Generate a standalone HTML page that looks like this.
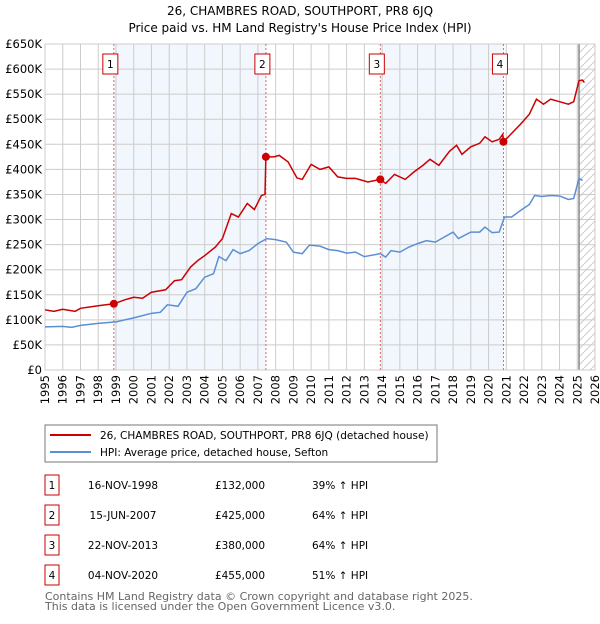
<!DOCTYPE html>
<html><head><meta charset="utf-8"><style>
body{margin:0;background:#fff;font-family:"DejaVu Sans","Liberation Sans",sans-serif;}
svg text{font-family:"DejaVu Sans","Liberation Sans",sans-serif;}
</style></head><body>
<svg id="c" width="600" height="620" xmlns="http://www.w3.org/2000/svg">
<defs><pattern id="h" width="8" height="8" patternUnits="userSpaceOnUse"><path d="M0,8 L8,0" stroke="#ccc" stroke-width="1"/></pattern></defs>
<text x="300" y="15" text-anchor="middle" font-size="12">26, CHAMBRES ROAD, SOUTHPORT, PR8 6JQ</text>
<text x="300" y="32" text-anchor="middle" font-size="12">Price paid vs. HM Land Registry's House Price Index (HPI)</text>
<g id="plot"></g>
<rect x="45" y="425" width="392" height="37" fill="#fff" stroke="#777"/>
<line x1="50" y1="435" x2="91" y2="435" stroke="#cc0000" stroke-width="2"/>
<text x="100" y="439" font-size="10.5">26, CHAMBRES ROAD, SOUTHPORT, PR8 6JQ (detached house)</text>
<line x1="50" y1="452" x2="91" y2="452" stroke="#5b8fd4" stroke-width="2"/>
<text x="100" y="456" font-size="10.5">HPI: Average price, detached house, Sefton</text>
<g id="tbl" font-size="10.5"></g>
<text x="45" y="600" font-size="11" fill="#666">Contains HM Land Registry data © Crown copyright and database right 2025.</text>
<text x="45" y="610" font-size="11" fill="#666">This data is licensed under the Open Government Licence v3.0.</text>
</svg>
<script>
const hpiT=[1995,1996,1996.5,1997,1998,1999,2000,2001,2001.5,2001.9,2002.5,2003,2003.5,2004,2004.5,2004.8,2005.2,2005.6,2006,2006.5,2007,2007.5,2008,2008.6,2009,2009.5,2009.9,2010.5,2011,2011.5,2012,2012.5,2013,2013.9,2014.2,2014.5,2015,2015.5,2016,2016.5,2017,2017.5,2018,2018.3,2019,2019.5,2019.8,2020.2,2020.6,2020.9,2021.3,2021.8,2022.3,2022.6,2023,2023.5,2024,2024.5,2024.8,2025.1,2025.3];
const hpiV=[86,87,85,89,93,96,104,113,115,130,127,155,162,185,192,226,218,240,232,238,252,262,260,255,235,232,249,247,240,238,233,235,226,232,225,238,235,245,252,258,255,265,275,262,275,275,285,274,275,305,305,318,330,348,346,348,347,340,342,382,378];
const redT=[1995,1995.5,1996,1996.7,1997,1998,1998.88,1999.5,2000,2000.5,2001,2001.8,2002.3,2002.7,2003.2,2003.6,2004,2004.6,2005,2005.5,2005.9,2006.4,2006.8,2007.2,2007.4,2007.45,2007.9,2008.2,2008.7,2009.2,2009.5,2010,2010.5,2011,2011.5,2012,2012.5,2013.2,2013.9,2014.2,2014.7,2015.3,2015.8,2016.3,2016.7,2017.2,2017.8,2018.2,2018.5,2019,2019.5,2019.8,2020.2,2020.6,2020.8,2020.84,2021.2,2021.8,2022.3,2022.7,2023.1,2023.5,2024,2024.5,2024.8,2025.1,2025.3,2025.4];
const redV=[120,117,121,117,123,128,132,140,145,143,155,160,178,180,205,218,228,245,262,312,305,332,320,348,350,425,425,428,415,383,380,410,400,405,385,382,382,375,380,372,390,380,395,408,420,408,436,448,430,445,452,465,455,460,470,455,468,490,510,540,530,540,535,530,535,577,578,573];
const saleT=[1998.88,2007.45,2013.9,2020.84];
const saleV=[132,425,380,455];
const saleDates=["16-NOV-1998","15-JUN-2007","22-NOV-2013","04-NOV-2020"];
const salePrices=["£132,000","£425,000","£380,000","£455,000"];
const saleHpi=["39% ↑ HPI","64% ↑ HPI","64% ↑ HPI","51% ↑ HPI"];
const yTicks=[0,50,100,150,200,250,300,350,400,450,500,550,600,650];
const yLabels=["£0","£50K","£100K","£150K","£200K","£250K","£300K","£350K","£400K","£450K","£500K","£550K","£600K","£650K"];
const xTicks=[1995,1996,1997,1998,1999,2000,2001,2002,2003,2004,2005,2006,2007,2008,2009,2010,2011,2012,2013,2014,2015,2016,2017,2018,2019,2020,2021,2022,2023,2024,2025,2026];
const L=45,R=595,T=44,B=370;
const X=t=>L+(t-1995)/(2026-1995)*(R-L);
const Y=v=>B-v/650*(B-T);
const NS="http://www.w3.org/2000/svg";
const g=document.getElementById('plot');
function mk(tag,a,p){const e=document.createElementNS(NS,tag);for(const k in a)e.setAttribute(k,a[k]);(p||g).appendChild(e);return e;}
let e;
e=mk('rect',{x:L,y:T,width:R-L,height:B-T,fill:'#fff'});


for(let i=0;i<4;i+=2){e=mk('rect',{x:X(saleT[i]),y:T,width:X(saleT[i+1])-X(saleT[i]),height:B-T,fill:'#f2f6fd'});

}
e=mk('rect',{x:X(2025.1),y:T,width:R-X(2025.1),height:B-T,fill:'url(#h)'});


yTicks.forEach((v,i)=>{e=mk('line',{x1:L,x2:R,y1:Y(v),y2:Y(v),stroke:'#ccc'});


e=mk('text',{x:L-3,y:Y(v)+4,'text-anchor':'end','font-size':'11.5'});e.textContent=yLabels[i];

});
xTicks.forEach(t=>{e=mk('line',{x1:X(t),x2:X(t),y1:T,y2:B,stroke:'#ccc'});


e=mk('text',{x:0,y:0,transform:`translate(${X(t)+4},375) rotate(-90)`,'text-anchor':'end','font-size':'11.5'});e.textContent=t;

});
e=mk('line',{x1:X(2025.1),x2:X(2025.1),y1:T,y2:B,stroke:'#888','stroke-width':1.5});


e=mk('rect',{x:L,y:T,width:R-L,height:B-T,fill:'none',stroke:'#ccc'});


saleT.forEach((t,i)=>{e=mk('line',{x1:X(t),x2:X(t),y1:T,y2:B,stroke:'#e06666','stroke-dasharray':'2,2'});


e=mk('rect',{x:X(t)-11,y:54,width:15,height:20,fill:'#fff',stroke:'#cc0000'});


e=mk('text',{x:X(t)-3.5,y:68,'text-anchor':'middle','font-size':'10.5'});e.textContent=i+1;

});
e=mk('polyline',{points:hpiT.map((t,i)=>X(t)+','+Y(hpiV[i])).join(' '),fill:'none',stroke:'#5b8fd4','stroke-width':1.5});


e=mk('polyline',{points:redT.map((t,i)=>X(t)+','+Y(redV[i])).join(' '),fill:'none',stroke:'#cc0000','stroke-width':1.5});


saleT.forEach((t,i)=>{e=mk('circle',{cx:X(t),cy:Y(saleV[i]),r:4,fill:'#cc0000'});

});
const tb=document.getElementById('tbl');
saleT.forEach((t,i)=>{const y=485+i*30;
e=mk('rect',{x:45,y:y-10,width:14,height:20,fill:'#fff',stroke:'#cc0000'},tb);


e=mk('text',{x:52,y:y+4,'text-anchor':'middle'},tb);e.textContent=i+1;


e=mk('text',{x:123,y:y+4,'text-anchor':'middle'},tb);e.textContent=saleDates[i];


e=mk('text',{x:240,y:y+4,'text-anchor':'middle'},tb);e.textContent=salePrices[i];


e=mk('text',{x:312,y:y+4},tb);e.textContent=saleHpi[i];

});
</script>
</body></html>
